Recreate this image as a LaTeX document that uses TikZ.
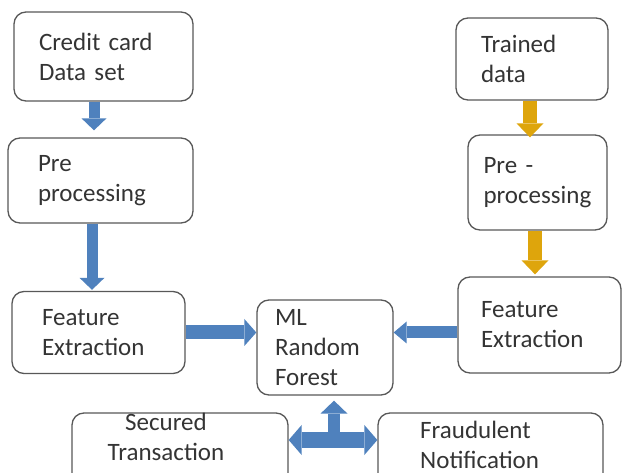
\documentclass[tikz,border=0pt]{standalone}
\usepackage{fontspec}
\setmainfont{Carlito}
\usetikzlibrary{arrows.meta,positioning}

\definecolor{boxline}{RGB}{88,88,88}
\definecolor{inkgray}{RGB}{52,52,52}
\definecolor{flowblue}{RGB}{79,129,189}
\definecolor{flowgold}{RGB}{222,165,12}

\begin{document}
\begin{tikzpicture}[
    x=1pt, y=1pt,
    box/.style={draw=boxline, line width=1.3pt, rounded corners=12pt, align=left, inner sep=0pt, text=inkgray, font=\fontsize{25}{30}\selectfont},
    boxtext/.style={inner sep=0pt, text=inkgray, font=\fontsize{25}{30}\selectfont},
    bluearrow/.style={draw=flowblue, line width=11pt, -{Triangle[width=25pt, length=12pt, line width=0pt]}},
    goldarrow/.style={draw=flowgold, line width=14pt, -{Triangle[width=27pt, length=14pt, line width=0pt]}}
  ]
    \clip (0,0) rectangle (622,-473);

    % left column
    \node[box, minimum width=179pt, minimum height=89pt, text width=129pt] (card) at (103.5,-56.5) {Credit card\\Data set};
    \node[box, minimum width=185pt, minimum height=85pt, text width=125pt] (prep) at (100.5,-180.5) {Pre\\processing};
    \node[box, minimum width=173pt, minimum height=82pt, text width=113pt] (featl) at (98.5,-332.5) {Feature\\Extraction};

    % model
    \node[box, minimum width=136pt, minimum height=95pt, text width=100pt] (forest) at (325,-347.5) {ML\\Random\\Forest};

    % right column
    \node[box, minimum width=152pt, minimum height=82pt, text width=102pt] (trained) at (532,-59) {Trained\\data};
    \node[box, minimum width=139pt, minimum height=95pt, text width=108pt] (prepr) at (537.5,-182.5) {Pre -\\processing};
    \node[box, minimum width=163pt, minimum height=96pt, text width=117pt] (featr) at (539.5,-325) {Feature\\Extraction};

    % outputs
    \node[box, minimum width=216pt, minimum height=87pt] (secured) at (180,-456.5) {};
    \node[box, minimum width=225pt, minimum height=87pt] (fraud) at (490.5,-456.5) {};
    \node[boxtext, align=center, anchor=north] (securedtext) at (166,-412.5) {Secured\\Transaction};
    \node[boxtext, align=left, anchor=north west] (fraudtext) at (420,-420.5) {Fraudulent\\Notification};

    \draw[bluearrow] ([xshift=-9.5pt]card.south) -- ([xshift=-6.5pt,yshift=7pt]prep.north);
    \draw[bluearrow] ([xshift=-8.5pt]prep.south) -- ([xshift=-6.5pt,yshift=1pt]featl.north);
    \draw[goldarrow] ([xshift=-2pt]trained.south) -- ([xshift=-7.5pt,yshift=-3pt]prepr.north);
    \draw[goldarrow] ([xshift=-2.5pt]prepr.south) -- ([xshift=-4.5pt,yshift=2pt]featr.north);

    \draw[bluearrow, line width=14pt, -{Triangle[width=27pt, length=12pt, line width=0pt]}] (featl.east) -- (featl.east -| forest.west);
    \draw[bluearrow, line width=12pt, -{Triangle[width=22pt, length=13pt, line width=0pt]}] (featr.west |- featl.east) -- (forest.east |- featl.east);

    \coordinate (hub) at (334,-440);
    \draw[bluearrow, line width=15pt, {Triangle[width=30pt, length=13pt, line width=0pt]}-{Triangle[width=30pt, length=13pt, line width=0pt]}] (secured.east |- hub) -- (fraud.west |- hub);
    \draw[bluearrow, line width=12pt, -{Triangle[width=27pt, length=13pt, line width=0pt]}, shorten >=5pt] (hub) -- (hub |- forest.south);
  \end{tikzpicture}
\end{document}
